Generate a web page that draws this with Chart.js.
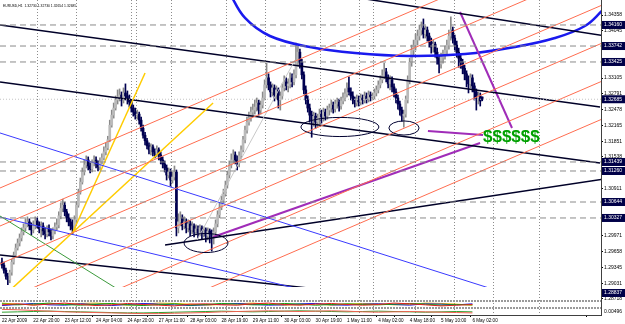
<!DOCTYPE html>
<html lang="en">
<head>
<meta charset="UTF-8">
<title>EURUSD H1</title>
<script src="https://cdn.jsdelivr.net/npm/chart.js"></script>
<style>
  html, body { margin: 0; padding: 0; background: #fff; }
  #wrap { width: 625px; height: 324px; }
</style>
</head>
<body>
<div id="wrap"><canvas id="grafico" width="625" height="324"></canvas></div>
<script>
// EURUSD H1 bars, 22 Apr 2009 04:00 -> 6 May 2009 07:00 (bar index = position)
const opens = [1.2945,1.2939,1.2929,1.2917,1.2910,1.2925,1.2945,1.2959,1.2973,1.2983,
1.2993,1.3005,1.3013,1.3021,1.3025,1.3017,1.3009,1.3017,1.3027,1.3019,
1.3011,1.3017,1.3007,1.3001,1.3011,1.3005,1.2997,1.3007,1.3015,1.3019,
1.3037,1.3052,1.3058,1.3045,1.3033,1.3025,1.3017,1.3011,1.3029,1.3058,
1.3084,1.3104,1.3124,1.3138,1.3148,1.3136,1.3130,1.3142,1.3148,1.3140,
1.3134,1.3144,1.3152,1.3164,1.3172,1.3188,1.3217,1.3237,1.3251,1.3267,
1.3273,1.3277,1.3267,1.3281,1.3275,1.3269,1.3263,1.3251,1.3243,1.3237,
1.3239,1.3227,1.3211,1.3197,1.3186,1.3176,1.3168,1.3174,1.3164,1.3160,
1.3168,1.3158,1.3148,1.3140,1.3132,1.3118,1.3124,1.3108,1.3114,1.3124,
1.3013,1.3025,1.3033,1.3017,1.3025,1.3013,1.3021,1.3009,1.3017,1.3005,
1.3011,1.3003,1.3013,1.3003,1.3009,1.2997,1.3007,1.3001,1.2995,1.3005,
1.3021,1.3039,1.3054,1.3068,1.3080,1.3098,1.3118,1.3138,1.3148,1.3158,
1.3148,1.3142,1.3156,1.3168,1.3188,1.3207,1.3223,1.3231,1.3243,1.3247,
1.3253,1.3261,1.3247,1.3257,1.3271,1.3297,1.3311,1.3297,1.3283,1.3291,
1.3277,1.3287,1.3267,1.3275,1.3291,1.3303,1.3295,1.3299,1.3311,1.3303,
1.3317,1.3346,1.3362,1.3342,1.3317,1.3287,1.3267,1.3251,1.3237,1.3227,
1.3235,1.3223,1.3231,1.3239,1.3233,1.3243,1.3235,1.3247,1.3251,1.3257,
1.3249,1.3259,1.3263,1.3255,1.3265,1.3271,1.3279,1.3291,1.3283,1.3275,
1.3267,1.3261,1.3269,1.3263,1.3271,1.3267,1.3275,1.3269,1.3277,1.3273,
1.3275,1.3281,1.3287,1.3297,1.3307,1.3315,1.3323,1.3311,1.3299,1.3307,
1.3293,1.3283,1.3271,1.3259,1.3247,1.3235,1.3239,1.3267,1.3307,1.3342,
1.3366,1.3376,1.3386,1.3394,1.3406,1.3410,1.3398,1.3406,1.3394,1.3382,
1.3372,1.3378,1.3362,1.3350,1.3338,1.3352,1.3358,1.3366,1.3376,1.3394,
1.3406,1.3390,1.3376,1.3362,1.3350,1.3342,1.3330,1.3319,1.3307,1.3299,
1.3311,1.3295,1.3283,1.3271,1.3275,1.32730];
const highs = [1.2953,1.2945,1.2933,1.2923,1.2929,1.2951,1.2965,1.2981,1.2991,1.3001,
1.3013,1.3021,1.3031,1.3035,1.3031,1.3023,1.3027,1.3035,1.3033,1.3025,
1.3025,1.3023,1.3013,1.3017,1.3019,1.3011,1.3013,1.3023,1.3031,1.3045,
1.3062,1.3070,1.3064,1.3050,1.3041,1.3031,1.3029,1.3037,1.3064,1.3090,
1.3112,1.3132,1.3148,1.3156,1.3154,1.3142,1.3148,1.3156,1.3154,1.3146,
1.3152,1.3160,1.3174,1.3182,1.3195,1.3227,1.3247,1.3261,1.3275,1.3287,
1.3289,1.3283,1.3291,1.3299,1.3285,1.3277,1.3267,1.3257,1.3251,1.3247,
1.3243,1.3233,1.3217,1.3203,1.3191,1.3182,1.3180,1.3178,1.3170,1.3176,
1.3172,1.3164,1.3154,1.3146,1.3138,1.3132,1.3130,1.3124,1.3136,1.3128,
1.3041,1.3045,1.3039,1.3035,1.3031,1.3029,1.3027,1.3025,1.3021,1.3019,
1.3017,1.3019,1.3017,1.3015,1.3013,1.3013,1.3011,1.3009,1.3013,1.3029,
1.3047,1.3062,1.3076,1.3090,1.3106,1.3126,1.3146,1.3160,1.3168,1.3164,
1.3156,1.3164,1.3176,1.3195,1.3215,1.3233,1.3243,1.3253,1.3259,1.3267,
1.3271,1.3267,1.3265,1.3283,1.3307,1.3340,1.3319,1.3303,1.3299,1.3297,
1.3295,1.3291,1.3283,1.3299,1.3315,1.3311,1.3309,1.3321,1.3319,1.3327,
1.3380,1.3374,1.3368,1.3348,1.3323,1.3295,1.3275,1.3259,1.3245,1.3243,
1.3241,1.3239,1.3249,1.3247,1.3251,1.3249,1.3255,1.3259,1.3267,1.3263,
1.3267,1.3271,1.3269,1.3273,1.3281,1.3289,1.3301,1.3313,1.3291,1.3283,
1.3273,1.3277,1.3275,1.3279,1.3277,1.3283,1.3281,1.3285,1.3283,1.3281,
1.3289,1.3295,1.3305,1.3315,1.3327,1.3340,1.3330,1.3317,1.3315,1.3313,
1.3299,1.3289,1.3277,1.3265,1.3253,1.3247,1.3275,1.3315,1.3350,1.3376,
1.3386,1.3398,1.3406,1.3416,1.3422,1.3428,1.3414,1.3412,1.3400,1.3390,
1.3386,1.3382,1.3370,1.3356,1.3360,1.3366,1.3374,1.3386,1.3406,1.3432,
1.3412,1.3396,1.3384,1.3370,1.3356,1.3348,1.3336,1.3325,1.3315,1.3319,
1.3317,1.3301,1.3289,1.3283,1.3281,1.32730];
const lows = [1.2933,1.2923,1.2911,1.2900,1.2904,1.2919,1.2941,1.2955,1.2969,1.2977,
1.2987,1.2999,1.3007,1.3015,1.3009,1.2999,1.3003,1.3011,1.3013,1.3003,
1.2995,1.2999,1.2991,1.2995,1.2997,1.2989,1.2991,1.3001,1.3009,1.3013,
1.3031,1.3045,1.3037,1.3025,1.3017,1.3009,1.3001,1.3007,1.3025,1.3054,
1.3080,1.3100,1.3118,1.3132,1.3128,1.3122,1.3124,1.3136,1.3132,1.3126,
1.3128,1.3140,1.3148,1.3158,1.3168,1.3184,1.3213,1.3231,1.3247,1.3259,
1.3265,1.3255,1.3261,1.3267,1.3259,1.3253,1.3243,1.3235,1.3229,1.3229,
1.3219,1.3205,1.3191,1.3178,1.3170,1.3160,1.3158,1.3156,1.3152,1.3154,
1.3148,1.3140,1.3132,1.3124,1.3108,1.3112,1.3096,1.3102,1.3108,1.2997,
1.3003,1.3017,1.3009,1.3011,1.3003,1.3005,1.2997,1.3001,1.2995,1.2999,
1.2993,1.2997,1.2991,1.2995,1.2985,1.2989,1.2983,1.2967,1.2981,1.2997,
1.3015,1.3033,1.3049,1.3062,1.3076,1.3092,1.3112,1.3132,1.3142,1.3140,
1.3128,1.3134,1.3150,1.3164,1.3182,1.3201,1.3217,1.3225,1.3235,1.3239,
1.3245,1.3237,1.3239,1.3251,1.3267,1.3291,1.3287,1.3273,1.3275,1.3265,
1.3269,1.3251,1.3247,1.3269,1.3285,1.3287,1.3283,1.3291,1.3293,1.3297,
1.3311,1.3334,1.3330,1.3309,1.3279,1.3259,1.3243,1.3223,1.3193,1.3215,
1.3211,1.3213,1.3219,1.3221,1.3225,1.3227,1.3229,1.3237,1.3243,1.3241,
1.3243,1.3251,1.3245,1.3249,1.3259,1.3265,1.3273,1.3277,1.3267,1.3259,
1.3253,1.3255,1.3255,1.3257,1.3259,1.3261,1.3261,1.3263,1.3265,1.3267,
1.3269,1.3275,1.3281,1.3291,1.3301,1.3309,1.3303,1.3291,1.3287,1.3283,
1.3273,1.3261,1.3249,1.3237,1.3225,1.3213,1.3233,1.3261,1.3299,1.3334,
1.3356,1.3366,1.3376,1.3386,1.3396,1.3390,1.3390,1.3384,1.3372,1.3360,
1.3362,1.3352,1.3338,1.3321,1.3330,1.3340,1.3348,1.3356,1.3368,1.3386,
1.3380,1.3366,1.3352,1.3332,1.3330,1.3319,1.3307,1.3293,1.3281,1.3291,
1.3283,1.3267,1.3247,1.3259,1.3255,1.32654];
const closes = [1.2939,1.2929,1.2917,1.2910,1.2925,1.2945,1.2959,1.2973,1.2983,1.2993,
1.3005,1.3013,1.3021,1.3025,1.3017,1.3009,1.3017,1.3027,1.3019,1.3011,
1.3017,1.3007,1.3001,1.3011,1.3005,1.2997,1.3007,1.3015,1.3019,1.3037,
1.3052,1.3058,1.3045,1.3033,1.3025,1.3017,1.3011,1.3029,1.3058,1.3084,
1.3104,1.3124,1.3138,1.3148,1.3136,1.3130,1.3142,1.3148,1.3140,1.3134,
1.3144,1.3152,1.3164,1.3172,1.3188,1.3217,1.3237,1.3251,1.3267,1.3273,
1.3277,1.3267,1.3281,1.3275,1.3269,1.3263,1.3251,1.3243,1.3237,1.3239,
1.3227,1.3211,1.3197,1.3186,1.3176,1.3168,1.3174,1.3164,1.3160,1.3168,
1.3158,1.3148,1.3140,1.3132,1.3118,1.3124,1.3108,1.3114,1.3124,1.3013,
1.3025,1.3033,1.3017,1.3025,1.3013,1.3021,1.3009,1.3017,1.3005,1.3011,
1.3003,1.3013,1.3003,1.3009,1.2997,1.3007,1.3001,1.2995,1.3005,1.3021,
1.3039,1.3054,1.3068,1.3080,1.3098,1.3118,1.3138,1.3148,1.3158,1.3148,
1.3142,1.3156,1.3168,1.3188,1.3207,1.3223,1.3231,1.3243,1.3247,1.3253,
1.3261,1.3247,1.3257,1.3271,1.3297,1.3311,1.3297,1.3283,1.3291,1.3277,
1.3287,1.3267,1.3275,1.3291,1.3303,1.3295,1.3299,1.3311,1.3303,1.3317,
1.3346,1.3362,1.3342,1.3317,1.3287,1.3267,1.3251,1.3237,1.3227,1.3235,
1.3223,1.3231,1.3239,1.3233,1.3243,1.3235,1.3247,1.3251,1.3257,1.3249,
1.3259,1.3263,1.3255,1.3265,1.3271,1.3279,1.3291,1.3283,1.3275,1.3267,
1.3261,1.3269,1.3263,1.3271,1.3267,1.3275,1.3269,1.3277,1.3273,1.3275,
1.3281,1.3287,1.3297,1.3307,1.3315,1.3323,1.3311,1.3299,1.3307,1.3293,
1.3283,1.3271,1.3259,1.3247,1.3235,1.3239,1.3267,1.3307,1.3342,1.3366,
1.3376,1.3386,1.3394,1.3406,1.3410,1.3398,1.3406,1.3394,1.3382,1.3372,
1.3378,1.3362,1.3350,1.3338,1.3352,1.3358,1.3366,1.3376,1.3394,1.3406,
1.3390,1.3376,1.3362,1.3350,1.3342,1.3330,1.3319,1.3307,1.3299,1.3311,
1.3295,1.3283,1.3271,1.3275,1.3265,1.32685];

// time axis
const timeLabels = ['22 Apr 2009','22 Apr 20:00','23 Apr 12:00','24 Apr 04:00','24 Apr 20:00','27 Apr 11:00',
  '28 Apr 03:00','28 Apr 19:00','29 Apr 11:00','30 Apr 03:00','30 Apr 19:00','1 May 11:00',
  '4 May 02:00','4 May 18:00','5 May 10:00','6 May 02:00'];
const timeLabelBars = [0,16,32,48,64,80,96,112,128,144,160,176,192,208,224,240];
const daySeparators = [20,44,68,69,93,117,141,165,189,190,214,238,262,286];

// price axis
const priceTicks = [1.34358,1.34045,1.33731,1.33418,1.33105,1.32791,1.32478,1.32165,1.31851,1.31538,
  1.31225,1.30911,1.30598,1.30285,1.29971,1.29658,1.29345,1.29031,1.28718];
const levelPrices = [1.34160,1.33742,1.33425,1.31439,1.31260,1.30644,1.30327,1.28837];
const bidPrice = 1.32685;

// drawn objects: [bar1, price1, bar2, price2]
const blackLines = [[-1.0,1.34160,305.1,1.32531],[-1.0,1.33028,305.1,1.31419],[177.6,1.34724,307.7,1.33941],
  [83.2,1.29790,307.7,1.31101],[-1.0,1.29592,213.3,1.28698]];
const blueLines = [[-1.0,1.32015,269.4,1.28678],[-1.0,1.30346,175.0,1.28698]];
const orangeLines = [[-6.1,1.30837,315.3,1.36217],[-6.1,1.30082,315.3,1.35462],[-6.1,1.29328,315.3,1.34708],
  [-6.1,1.28573,315.3,1.33953],[-6.1,1.27818,315.3,1.33198],[-6.1,1.27064,315.3,1.32444]];
const yellowLines = [[36.2,1.30049,73.0,1.33206],[1.5,1.28797,107.7,1.32610]];
const greenLines = [[-1.0,1.30366,67.9,1.28698]];
const grayLines = [[99.5,1.29890,149.5,1.33464]];
const purpleLines = [[233.7,1.34418,260.2,1.32114],[217.3,1.32054,245.4,1.31975],[107.7,1.29949,243.9,1.31816]];
const arcBars = [115.8,124.0,136.7,157.1,180.1,208.2,236.2,261.7,282.1,297.4,306.6];
const arcPrices = [1.34815,1.34299,1.33941,1.33723,1.33603,1.33544,1.33584,1.33723,1.33901,1.34140,1.34457];
// ellipses: [centre bar, centre price, half width (bars), half height (price)]
const ellipses = [[104.1,1.29830,11.2,0.0019],[172.4,1.32134,19.9,0.0019],[205.1,1.32114,7.7,0.0014]];
const noteText = '$$$$$$';
const notePos = [245.4, 1.31935];

// indicator sub-windows (sampled every 8 bars)
const indBars = [0,8,16,24,32,40,48,56,64,72,80,88,96,104,112,120,128,136,144,152,160,168,176,184,192,200,208,216,224,232,240];
const indRed = [1.45,1.60,1.40,1.55,1.70,1.50,1.35,1.45,1.65,1.50,1.40,1.30,1.55,1.60,1.45,1.40,1.60,1.70,1.50,1.40,1.55,1.65,1.50,1.40,1.50,1.70,1.60,1.45,1.30,1.40,1.50];
const indGreen = [1.60,1.45,1.55,1.70,1.50,1.40,1.55,1.65,1.45,1.35,1.50,1.60,1.40,1.50,1.65,1.55,1.45,1.50,1.65,1.55,1.40,1.50,1.60,1.50,1.45,1.55,1.65,1.55,1.40,1.50,1.45];
const indBlue = [1.35,1.50,1.65,1.45,1.40,1.60,1.50,1.35,1.50,1.65,1.55,1.45,1.35,1.45,1.55,1.65,1.50,1.40,1.45,1.60,1.65,1.45,1.40,1.55,1.60,1.50,1.40,1.60,1.55,1.45,1.60];
const indGold = [1.70,1.55,1.45,1.60,1.55,1.65,1.70,1.55,1.40,1.55,1.70,1.65,1.55,1.40,1.50,1.60,1.70,1.55,1.40,1.50,1.60,1.40,1.55,1.65,1.60,1.45,1.50,1.70,1.65,1.55,1.40];
const indSlow = [0.80,0.75,0.65,0.55,0.45,0.40,0.35,0.30,0.25,0.20,0.20,0.25,0.30,0.35,0.45,0.50,0.55,0.60,0.55,0.50,0.55,0.60,0.55,0.45,0.40,0.45,0.50,0.45,0.40,0.35,0.30];
const indSignal = [0.40,0.45,0.50,0.55,0.50,0.45,0.40,0.35,0.30,0.30,0.35,0.40,0.45,0.50,0.55,0.50,0.45,0.50,0.55,0.60,0.55,0.50,0.45,0.50,0.55,0.50,0.45,0.40,0.45,0.50,0.45];
const indLabel = '0.00496';

const FONT = 'Liberation Sans';
const mainClip = {left: 0, top: 0, right: 0, bottom: -14};
const last = closes.length - 1;
const titleText = 'EURUSD,H1  ' + [opens[last], highs[last], lows[last], closes[last]].map(v => v.toFixed(5)).join(' ');

function segment(l, color, width, dash) {
    return {
        type: 'line',
        data: [{x: l[0], y: l[1]}, {x: l[2], y: l[3]}],
        borderColor: color, borderWidth: width, borderDash: dash || [],
        pointRadius: 0, yAxisID: 'y', clip: mainClip, order: 1
    };
}
function indLine(vals, color) {
    return {
        type: 'line', yAxisID: 'yi',
        data: indBars.map((b, k) => ({x: b, y: vals[k]})),
        borderColor: color, borderWidth: 1, pointRadius: 0, order: 1
    };
}

const isUp = i => closes[i] >= opens[i];
const datasets = [];

// candles
datasets.push({
    type: 'bar', yAxisID: 'y', grouped: false, order: 5,
    data: lows.map((l, i) => ({x: i, y: [l, highs[i]]})),
    barThickness: 1,
    backgroundColor: c => isUp(c.dataIndex) ? '#8a8a8a' : '#000050'
});
datasets.push({
    type: 'bar', yAxisID: 'y', grouped: false, order: 4, minBarLength: 1,
    data: opens.map((o, i) => ({x: i, y: [o, closes[i]]})),
    barThickness: 2,
    backgroundColor: c => isUp(c.dataIndex) ? '#bababa' : '#000050'
});

levelPrices.forEach(p => datasets.push(segment([-1, p, 306, p], '#8a8a8a', 1, [6, 4])));
datasets.push(segment([-1, bidPrice, 306, bidPrice], '#c4c4c4', 1, [1, 2]));
orangeLines.forEach(l => datasets.push(segment(l, '#ff6d50', 1)));
greenLines.forEach(l => datasets.push(segment(l, '#3c9a3c', 1)));
grayLines.forEach(l => datasets.push(segment(l, '#c8c8c8', 1)));
blueLines.forEach(l => datasets.push(segment(l, '#3a3aff', 1)));
yellowLines.forEach(l => datasets.push(segment(l, '#ffcc00', 1.5)));
blackLines.forEach(l => datasets.push(segment(l, '#000028', 1.5)));
purpleLines.forEach(l => datasets.push(segment(l, '#a02cb8', 2)));
datasets.push({
    type: 'line', yAxisID: 'y', clip: mainClip, order: 1,
    data: arcBars.map((b, k) => ({x: b, y: arcPrices[k]})),
    borderColor: '#1a1aee', borderWidth: 2.5, pointRadius: 0, tension: 0.4
});

datasets.push(indLine(indRed, '#e02020'));
datasets.push(indLine(indGreen, '#10a010'));
datasets.push(indLine(indBlue, '#2020e0'));
datasets.push(indLine(indGold, '#e0b000'));
datasets.push(indLine(indSlow, '#f06050'));
datasets.push(indLine(indSignal, '#30a030'));

const extras = {
    id: 'extras',
    afterDatasetsDraw(chart) {
        const {ctx, scales: {x, y}} = chart;
        ctx.save();
        ctx.beginPath();
        ctx.rect(x.left, y.top, x.right - x.left, y.bottom - y.top);
        ctx.clip();
        ctx.strokeStyle = '#000030';
        ctx.lineWidth = 1;
        ellipses.forEach(e => {
            const cx = x.getPixelForValue(e[0]), cy = y.getPixelForValue(e[1]);
            const rx = Math.abs(x.getPixelForValue(e[0] + e[2]) - cx);
            const ry = Math.abs(y.getPixelForValue(e[1] + e[3]) - cy);
            ctx.beginPath();
            ctx.ellipse(cx, cy, rx, ry, 0, 0, Math.PI * 2);
            ctx.stroke();
        });
        ctx.font = 'bold 17px "' + FONT + '"';
        ctx.fillStyle = '#00a000';
        ctx.textBaseline = 'middle';
        ctx.fillText(noteText, x.getPixelForValue(notePos[0]), y.getPixelForValue(notePos[1]));
        ctx.font = '3.4px "' + FONT + '"';
        ctx.fillStyle = '#000';
        ctx.textBaseline = 'top';
        ctx.fillText(titleText, x.left + 3, y.top + 4);
        ctx.restore();
    }
};

const xTicks = timeLabelBars.concat(daySeparators).sort((a, b) => a - b);
const yTicks = priceTicks.concat([bidPrice], levelPrices);
const boxSet = new Set(levelPrices.concat([bidPrice]));

new Chart(document.getElementById('grafico'), {
    type: 'bar',
    data: {datasets},
    options: {
        responsive: false, animation: false, devicePixelRatio: 1,
        layout: {padding: 0, autoPadding: false},
        plugins: {legend: {display: false}, tooltip: {enabled: false}},
        scales: {
            x: {
                type: 'linear', min: -1, max: 305.6, offset: false, position: 'bottom',
                afterBuildTicks: s => { s.ticks = xTicks.map(v => ({value: v})); },
                afterFit: s => { s.height = 9; s.paddingLeft = 0; s.paddingRight = 0; },
                ticks: {
                    autoSkip: false, maxRotation: 0, align: 'start', padding: 1, color: '#000',
                    font: {family: FONT, size: 4.6},
                    callback: v => { const k = timeLabelBars.indexOf(v); return k >= 0 ? timeLabels[k] : ''; }
                },
                grid: {
                    drawOnChartArea: true, tickLength: 2, lineWidth: 1,
                    color: c => daySeparators.includes(c.tick && c.tick.value) ? '#8c8c8c' : 'rgba(0,0,0,0)',
                    tickColor: c => daySeparators.includes(c.tick && c.tick.value) ? 'rgba(0,0,0,0)' : '#000'
                },
                border: {display: true, color: '#404040', dash: [1, 2]}
            },
            y: {
                type: 'linear', position: 'right', stack: 'win', stackWeight: 301,
                min: 1.28678, max: 1.34656,
                afterBuildTicks: s => { s.ticks = yTicks.map(v => ({value: v})); },
                afterFit: s => { s.width = 24; s.paddingTop = 0; s.paddingBottom = 0; },
                ticks: {
                    autoSkip: false, padding: 1, font: {family: FONT, size: 5},
                    callback: v => v.toFixed(5),
                    color: c => boxSet.has(c.tick && c.tick.value) ? '#ffffff' : '#000000',
                    showLabelBackdrop: c => boxSet.has(c.tick && c.tick.value),
                    backdropColor: '#000048',
                    backdropPadding: {left: 2, right: 4, top: 1, bottom: 1}
                },
                grid: {drawOnChartArea: false, tickLength: 2, tickColor: '#000'},
                border: {display: true, color: '#404040'}
            },
            yi: {
                type: 'linear', position: 'right', stack: 'win', stackWeight: 14,
                min: 0, max: 2,
                afterBuildTicks: s => { s.ticks = [{value: 2}, {value: 1}, {value: 0.5}]; },
                afterFit: s => { s.width = 24; s.paddingTop = 0; s.paddingBottom = 0; },
                ticks: {
                    autoSkip: false, padding: 3, font: {family: FONT, size: 5}, color: '#000',
                    callback: v => v === 0.5 ? indLabel : ''
                },
                grid: {
                    drawOnChartArea: true, drawTicks: false, lineWidth: 2,
                    color: c => (c.tick && c.tick.value === 0.5) ? 'rgba(0,0,0,0)' : '#9a9a9a'
                },
                border: {display: true, color: '#404040', dash: [2, 1]}
            }
        }
    },
    plugins: [extras]
});
</script>
</body>
</html>
